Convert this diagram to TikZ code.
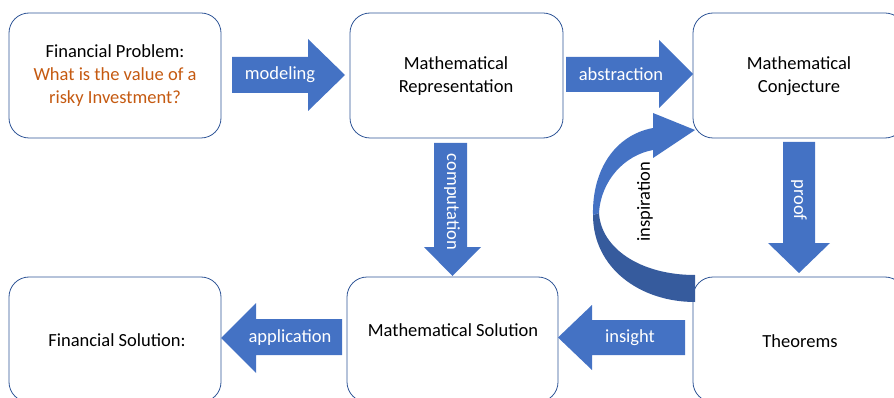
\documentclass[tikz,border=0pt]{standalone}
\usepackage{fontspec}
\setmainfont{Carlito}
\definecolor{boxline}{RGB}{47,85,151}
\definecolor{arrowblue}{RGB}{68,114,196}
\definecolor{arrowdark}{RGB}{54,91,157}
\definecolor{qorange}{RGB}{197,90,17}
\tikzset{
  rbox/.style={draw=boxline, line width=0.8pt, fill=white, rounded corners=20pt},
  barrow/.style={fill=arrowblue, draw=none},
  alabel/.style={text=white, font=\fontsize{18.5}{22}\selectfont, inner sep=0pt},
  btext/.style={text=black, font=\fontsize{18.5}{23}\selectfont, align=center, inner sep=0pt},
}
\begin{document}
\begin{tikzpicture}[x=1pt,y=-1pt]
\useasboundingbox (0,0) rectangle (894,398);
\clip (0,0) rectangle (894,398);
% boxes
\draw[rbox] (9,13) rectangle (221,138);
\draw[rbox] (350,13) rectangle (563,138);
\draw[rbox] (693,13) rectangle (905,138);
\draw[rbox] (9,277) rectangle (221,402);
\draw[rbox] (347,277) rectangle (558,402);
\draw[rbox] (693,277) rectangle (905,402);
% box texts
\node[btext] (fp) at (115,76) {Financial Problem:\\\textcolor{qorange}{What is the value of a}\\\textcolor{qorange}{risky Investment?}};
\node[btext] (mr) at (456,76) {Mathematical\\Representation};
\node[btext] (mc) at (799,76) {Mathematical\\Conjecture};
\node[btext] (fs) at (117,340) {Financial Solution:};
\node[btext] (ms) at (453,330) {Mathematical Solution};
\node[btext] (th) at (800,341) {Theorems};
% block arrows
\fill[barrow] (232,57) -- (308,57) -- (308,39) -- (345,75) -- (308,111) -- (308,93) -- (232,93) -- cycle;
\node[alabel] (lmod) at (280,75) {modeling};
\fill[barrow] (566,57) -- (659,57) -- (659,40) -- (693,74) -- (659,108) -- (659,92) -- (566,92) -- cycle;
\node[alabel] (labs) at (621,74) {abstraction};
\fill[barrow] (434,143) -- (467,143) -- (467,247) -- (481,247) -- (452.5,276) -- (424,247) -- (434,247) -- cycle;
\node[alabel, rotate=-90] (lcomp) at (452,202) {computation};
\fill[barrow] (783,142) -- (815,142) -- (815,243) -- (830,243) -- (799,273) -- (768,243) -- (783,243) -- cycle;
\node[alabel, rotate=-90] (lproof) at (799,200) {proof};
\fill[barrow] (685,320) -- (592,320) -- (592,305) -- (558,337.5) -- (592,370) -- (592,355) -- (685,355) -- cycle;
\node[alabel] (lins) at (630,338) {insight};
\fill[barrow] (342,319) -- (256,319) -- (256,303) -- (221,338) -- (256,373) -- (256,355) -- (342,355) -- cycle;
\node[alabel] (lapp) at (290,338) {application};
% curved arrow (inspiration)
\fill[arrowdark] (695,302) .. controls (640,302) and (593,268) .. (593,215)
  -- (599,213) .. controls (601,248) and (640,275) .. (695,275) -- cycle;
\fill[arrowblue] (593,215) .. controls (592,170) and (615,135) .. (653,128)
  -- (653,113) -- (695,130) -- (653,158) -- (653,150)
  .. controls (625,155) and (601,180) .. (599,213) -- cycle;
\node[btext, rotate=90] (linsp) at (645,202) {inspiration};
\end{tikzpicture}
\end{document}
